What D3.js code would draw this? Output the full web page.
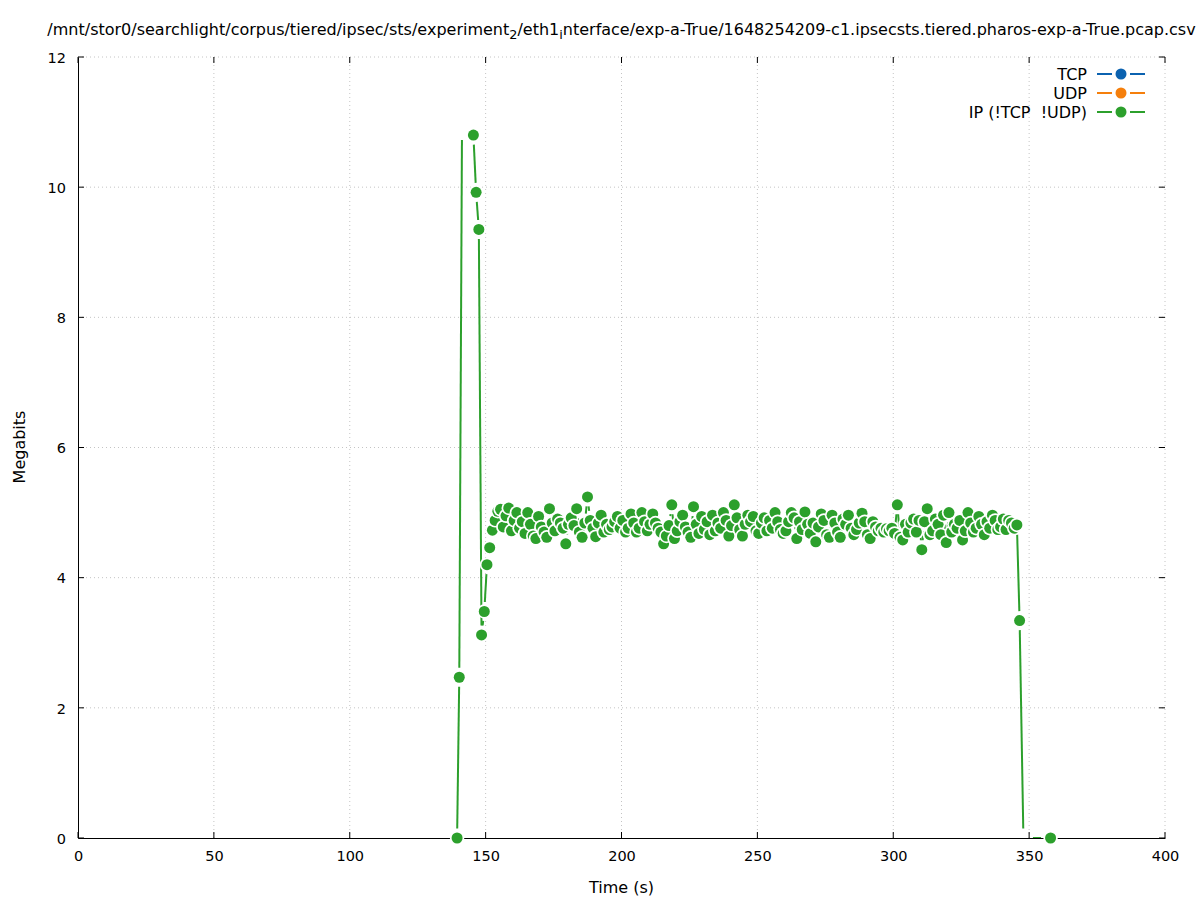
<!DOCTYPE html>
<html>
<head>
<meta charset="utf-8">
<script src="https://cdn.jsdelivr.net/npm/d3@7"></script>
<style>
  html, body { margin: 0; padding: 0; background: #fff; }
  svg { display: block; font-family: "DejaVu Sans", sans-serif; }
</style>
</head>
<body>
<svg id="chart" width="1197" height="900"></svg>
<script>
// ---------- data ----------
const seriesNames = ["TCP", "UDP", "IP (!TCP  !UDP)"];
const seriesColors = ["#0b62b0", "#f57f0c", "#2ca02c"];
const xTicks = [0, 50, 100, 150, 200, 250, 300, 350, 400];
const yTicks = [0, 2, 4, 6, 8, 10, 12];

// IP (!TCP !UDP) series: time (s) and megabits
const ipTimes = [139.5, 140.3, 141.3,
  145.5,146.5,147.5,148.5,149.5,150.5,151.5,152.5,153.5,154.5,155.5,156.5,157.5,158.5,159.5,
  160.5,161.5,162.5,163.5,164.5,165.5,166.5,167.5,168.5,169.5,170.5,171.5,172.5,173.5,174.5,
  175.5,176.5,177.5,178.5,179.5,180.5,181.5,182.5,183.5,184.5,185.5,186.5,187.5,188.5,189.5,
  190.5,191.5,192.5,193.5,194.5,195.5,196.5,197.5,198.5,199.5,200.5,201.5,202.5,203.5,204.5,
  205.5,206.5,207.5,208.5,209.5,210.5,211.5,212.5,213.5,214.5,215.5,216.5,217.5,218.5,219.5,
  220.5,221.5,222.5,223.5,224.5,225.5,226.5,227.5,228.5,229.5,230.5,231.5,232.5,233.5,234.5,
  235.5,236.5,237.5,238.5,239.5,240.5,241.5,242.5,243.5,244.5,245.5,246.5,247.5,248.5,249.5,
  250.5,251.5,252.5,253.5,254.5,255.5,256.5,257.5,258.5,259.5,260.5,261.5,262.5,263.5,264.5,
  265.5,266.5,267.5,268.5,269.5,270.5,271.5,272.5,273.5,274.5,275.5,276.5,277.5,278.5,279.5,
  280.5,281.5,282.5,283.5,284.5,285.5,286.5,287.5,288.5,289.5,290.5,291.5,292.5,293.5,294.5,
  295.5,296.5,297.5,298.5,299.5,300.5,301.5,302.5,303.5,304.5,305.5,306.5,307.5,308.5,309.5,
  310.5,311.5,312.5,313.5,314.5,315.5,316.5,317.5,318.5,319.5,320.5,321.5,322.5,323.5,324.5,
  325.5,326.5,327.5,328.5,329.5,330.5,331.5,332.5,333.5,334.5,335.5,336.5,337.5,338.5,339.5,
  340.5,341.5,342.5,343.5,344.5,345.5,346.5,
  347.9, 357.9];
const ipValues = [0, 2.47, 10.87,
  10.80,9.92,9.35,3.12,3.48,4.20,4.46,4.73,4.88,5.02,5.05,4.78,4.95,5.07,4.72,
  4.88,5.00,4.76,4.86,4.68,5.00,4.82,4.64,4.60,4.94,4.78,4.70,4.62,5.06,4.84,
  4.72,4.90,4.84,4.76,4.52,4.82,4.92,4.80,5.06,4.70,4.62,4.84,5.24,4.88,4.76,
  4.63,4.84,4.96,4.70,4.82,4.74,4.78,4.86,4.94,4.76,4.88,4.70,4.76,4.98,4.84,
  4.70,4.76,5.00,4.86,4.72,4.82,4.98,4.84,4.76,4.70,4.52,4.64,4.80,5.12,4.60,
  4.72,4.86,4.96,4.78,4.70,4.62,5.09,4.82,4.68,4.94,4.74,4.86,4.66,4.96,4.72,
  4.84,4.76,5.00,4.88,4.64,4.80,5.12,4.92,4.74,4.64,4.82,4.96,4.86,4.94,4.72,
  4.68,4.84,4.92,4.72,4.88,4.76,5.00,4.86,4.74,4.68,4.72,4.86,5.00,4.92,4.60,
  4.86,4.74,5.01,4.82,4.68,4.84,4.55,4.78,4.98,4.88,4.66,4.62,4.96,4.84,4.70,
  4.62,4.90,4.82,4.96,4.76,4.66,4.74,4.84,4.99,4.86,4.66,4.60,4.86,4.78,4.72,
  4.76,4.70,4.75,4.72,4.76,4.68,5.12,4.62,4.58,4.82,4.70,4.84,4.90,4.70,4.88,
  4.43,4.86,5.06,4.66,4.72,4.90,4.82,4.66,4.96,4.54,5.00,4.70,4.82,4.76,4.88,
  4.58,4.72,5.00,4.84,4.70,4.76,4.94,4.82,4.66,4.86,4.76,4.96,4.88,4.74,4.78,
  4.90,4.74,4.88,4.84,4.76,4.81,3.34,
  0, 0];
// samples whose marker is not drawn in the reference
const hiddenMarkerTimes = [141.3, 347.9];

// ---------- layout ----------
const svg = d3.select("#chart");
const margin = { left: 78, right: 1165, top: 57, bottom: 838 };
const x = d3.scaleLinear().domain([0, 400]).range([margin.left, margin.right]);
const y = d3.scaleLinear().domain([0, 12]).range([margin.bottom, margin.top]);
const tickFont = 14.5;
const textFont = 16;
const gridColor = "#c4c4c4";

// grid
const grid = svg.append("g");
grid.selectAll("line.gx").data(xTicks.filter(d => d !== 0)).join("line")
  .attr("x1", d => x(d)).attr("x2", d => x(d))
  .attr("y1", margin.top).attr("y2", margin.bottom)
  .attr("stroke", gridColor).attr("stroke-width", 1).attr("stroke-dasharray", "1,3");
grid.selectAll("line.gy").data(yTicks.filter(d => d !== 0)).join("line")
  .attr("x1", margin.left).attr("x2", margin.right)
  .attr("y1", d => y(d)).attr("y2", d => y(d))
  .attr("stroke", gridColor).attr("stroke-width", 1).attr("stroke-dasharray", "1,3");

// data lines with gaps around each sample (gnuplot linespoints style)
const green = seriesColors[2];
const pts = ipTimes.map((t, i) => ({ t, v: ipValues[i], px: x(t), py: y(ipValues[i]) }));
const gap = 9.5;
const segs = [];
for (let i = 0; i < pts.length - 1; i++) {
  const a = pts[i], b = pts[i + 1];
  const dx = b.px - a.px, dy = b.py - a.py, d = Math.hypot(dx, dy);
  if (d > 2 * gap) {
    const ux = dx / d, uy = dy / d;
    segs.push({ x1: a.px + ux * gap, y1: a.py + uy * gap, x2: b.px - ux * gap, y2: b.py - uy * gap });
  }
}
svg.append("g").selectAll("line").data(segs).join("line")
  .attr("x1", d => d.x1).attr("y1", d => d.y1).attr("x2", d => d.x2).attr("y2", d => d.y2)
  .attr("stroke", green).attr("stroke-width", 2);

// axes (left + bottom border, mirrored inward ticks)
const axisG = svg.append("g");
const xAxis = d3.axisBottom(x).tickValues(xTicks).tickSize(0).tickPadding(0);
const yAxis = d3.axisLeft(y).tickValues(yTicks).tickSize(0).tickPadding(0);
const gx = axisG.append("g").attr("transform", `translate(0,${margin.bottom})`).call(xAxis);
gx.select(".domain").attr("stroke", "#000").attr("stroke-width", 1);
gx.selectAll("text").attr("y", 13).attr("dy", "0.71em").attr("font-size", tickFont)
  .attr("font-family", "DejaVu Sans").attr("fill", "#000");
const gy = axisG.append("g").attr("transform", `translate(${margin.left},0)`).call(yAxis);
gy.select(".domain").attr("stroke", "#000").attr("stroke-width", 1);
gy.selectAll("text").attr("x", -12).attr("dy", "0.36em").attr("font-size", tickFont)
  .attr("font-family", "DejaVu Sans").attr("fill", "#000");

const tickLen = 6;
axisG.selectAll("line.tb").data(xTicks).join("line")
  .attr("x1", d => x(d)).attr("x2", d => x(d)).attr("y1", margin.bottom).attr("y2", margin.bottom - tickLen)
  .attr("stroke", "#000");
axisG.selectAll("line.tt").data(xTicks).join("line")
  .attr("x1", d => x(d)).attr("x2", d => x(d)).attr("y1", margin.top).attr("y2", margin.top + tickLen)
  .attr("stroke", "#000");
axisG.selectAll("line.tl").data(yTicks).join("line")
  .attr("x1", margin.left).attr("x2", margin.left + tickLen).attr("y1", d => y(d)).attr("y2", d => y(d))
  .attr("stroke", "#000");
axisG.selectAll("line.tr").data(yTicks).join("line")
  .attr("x1", margin.right).attr("x2", margin.right - tickLen).attr("y1", d => y(d)).attr("y2", d => y(d))
  .attr("stroke", "#000");

// markers
const markerPts = pts.filter(p => !hiddenMarkerTimes.includes(p.t));
const mg = svg.append("g");
markerPts.forEach(p => {
  mg.append("circle").attr("cx", p.px).attr("cy", p.py).attr("r", 7.2).attr("fill", "#fff");
  mg.append("circle").attr("cx", p.px).attr("cy", p.py).attr("r", 5.5).attr("fill", green);
});

// axis labels
svg.append("text").attr("x", (margin.left + margin.right) / 2).attr("y", 887).attr("dy", "0.36em")
  .attr("text-anchor", "middle").attr("font-size", textFont).text("Time (s)");
svg.append("text").attr("transform", "translate(19,447) rotate(-90)").attr("dy", "0.36em")
  .attr("text-anchor", "middle").attr("font-size", textFont).text("Megabits");

// title with gnuplot-style subscripts
const title = svg.append("text").attr("x", (margin.left + margin.right) / 2).attr("y", 35)
  .attr("text-anchor", "middle").attr("font-size", textFont);
title.append("tspan").text("/mnt/stor0/searchlight/corpus/tiered/ipsec/sts/experiment");
title.append("tspan").attr("font-size", textFont * 0.8).attr("dy", 4).text("2");
title.append("tspan").attr("dy", -4).text("/eth1");
title.append("tspan").attr("font-size", textFont * 0.8).attr("dy", 4).text("i");
title.append("tspan").attr("dy", -4).text("nterface/exp-a-True/1648254209-c1.ipsecsts.tiered.pharos-exp-a-True.pcap.csv");

// legend
const legendRows = [74, 93, 112];
const lg = svg.append("g");
seriesNames.forEach((name, i) => {
  const yy = legendRows[i];
  lg.append("text").attr("x", 1087).attr("y", yy).attr("dy", "0.36em").attr("text-anchor", "end")
    .attr("font-size", textFont).attr("xml:space", "preserve").style("white-space", "pre").text(name);
  lg.append("line").attr("x1", 1097).attr("x2", 1112).attr("y1", yy).attr("y2", yy)
    .attr("stroke", seriesColors[i]).attr("stroke-width", 2);
  lg.append("line").attr("x1", 1130).attr("x2", 1145).attr("y1", yy).attr("y2", yy)
    .attr("stroke", seriesColors[i]).attr("stroke-width", 2);
  lg.append("circle").attr("cx", 1121).attr("cy", yy).attr("r", 5.5).attr("fill", seriesColors[i]);
});
</script>
</body>
</html>
